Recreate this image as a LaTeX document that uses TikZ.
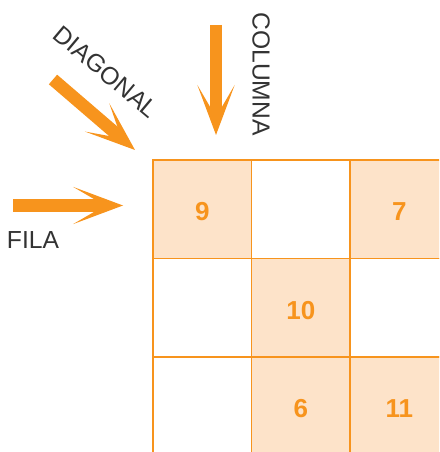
\documentclass[tikz,border=0pt]{standalone}
\usepackage{fontspec}
\setmainfont{Liberation Sans}
\usetikzlibrary{arrows.meta}
\definecolor{amber}{HTML}{F7941D}
\definecolor{peach}{HTML}{FDE3C9}
\definecolor{ink}{HTML}{333333}

\begin{document}
\begin{tikzpicture}[
  x=.75pt,y=-.75pt,
  cell/.style={draw=amber,line width=1.1pt,minimum size=73.9pt,inner sep=0pt,
               text height=17pt,text depth=0pt,
               font=\bfseries\fontsize{19.5}{22}\selectfont,text=amber},
  lit/.style={fill=peach},
  plain/.style={},
  word/.style={font=\fontsize{18.5}{22}\selectfont,text=ink,inner sep=0pt},
  pointer/.style={-{Stealth[length=37.5pt,width=28pt,inset=24pt,line width=0pt]},
                  line width=9.5pt,draw=amber}
]
\useasboundingbox (0,0) rectangle (439,452);
\clip (0,0) rectangle (439,452);

% the grid, cut off at the right and bottom
\foreach \r/\c/\n/\s in {1/1/9/lit,1/2//plain,1/3/7/lit,
                         2/1//plain,2/2/10/lit,2/3//plain,
                         3/1//plain,3/2/6/lit,3/3/11/lit}
  \node[cell,\s] (cell-\r-\c) at ({202.25+98.5*(\c-1)},{209.25+98.5*(\r-1)}) {\n};

% the three directions
\coordinate (filaTail) at (13,205.5);
\coordinate (filaHead) at (123,205.5);
\draw[pointer] (filaTail) -- (filaHead);

\coordinate (diagTail) at (53,79.5);
\coordinate (diagHead) at (135,150);
\draw[pointer] (diagTail) -- (diagHead);

\coordinate (colTail) at (216,25);
\coordinate (colHead) at (216,135);
\draw[pointer] (colTail) -- (colHead);

\node[word] (fila) at (33,240) {FILA};
\node[word,rotate=-40] (diagonal) at (106,72) {DIAGONAL};
\node[word,rotate=-90] (columna) at (261,74) {COLUMNA};

\end{tikzpicture}
\end{document}
